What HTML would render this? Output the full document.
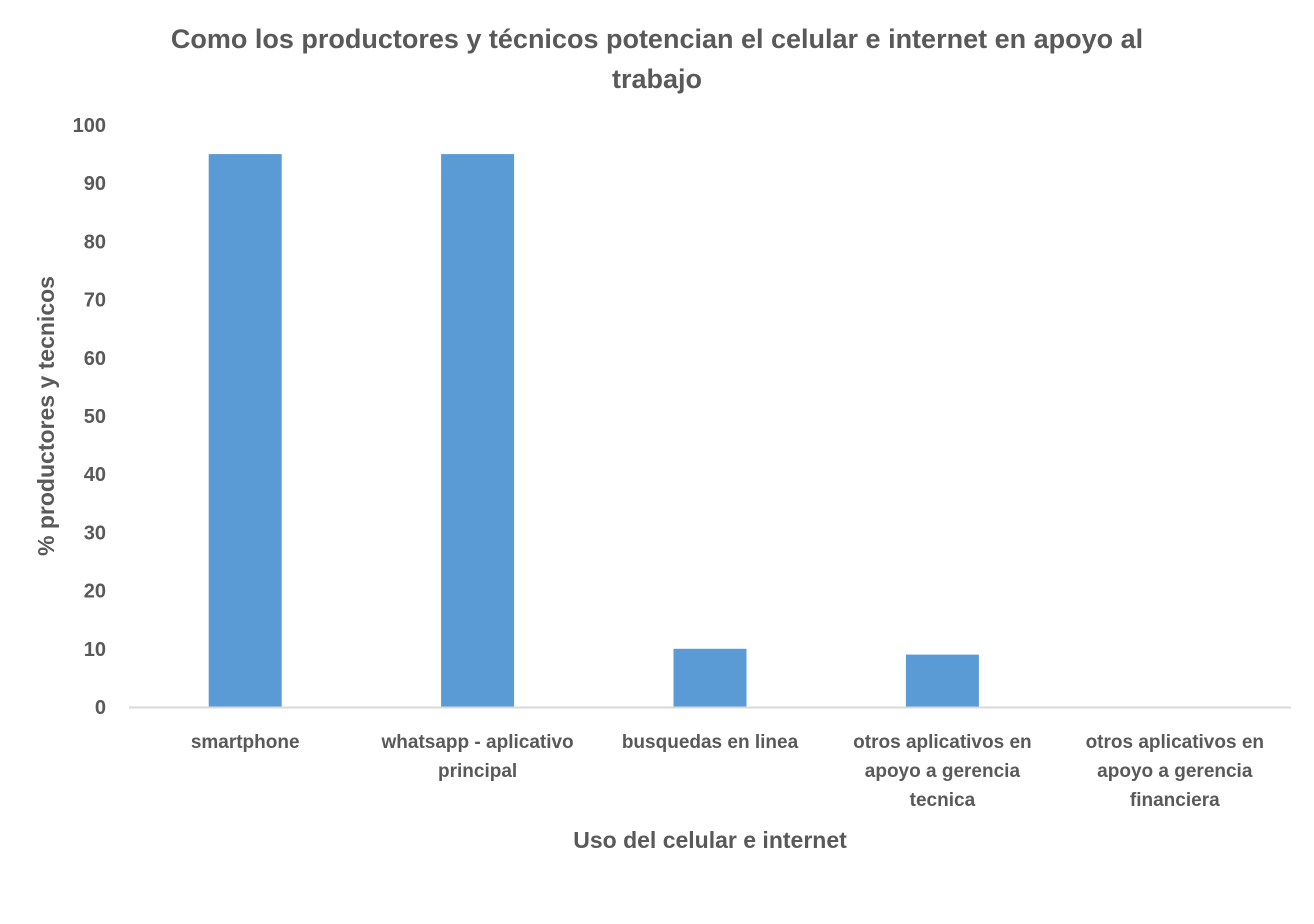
<!DOCTYPE html>
<html><head><meta charset="utf-8"><style>
body{margin:0;background:#fff;}
svg text{font-family:"Liberation Sans",sans-serif;font-weight:bold;fill:#595959;}
</style></head><body>
<svg width="1314" height="919" xmlns="http://www.w3.org/2000/svg">
<rect width="1314" height="919" fill="#fff"/>
<text x="657" y="48" font-size="27" text-anchor="middle">Como los productores y técnicos potencian el celular e internet en apoyo al</text>
<text x="657" y="88" font-size="27" text-anchor="middle">trabajo</text>
<text transform="translate(54,416) rotate(-90)" font-size="23" text-anchor="middle">% productores y tecnicos</text>
<text x="710" y="848" font-size="23" text-anchor="middle">Uso del celular e internet</text>
<g id="plot"></g>
</svg>
<script>
const categories=[["smartphone"],["whatsapp - aplicativo","principal"],["busquedas en linea"],["otros aplicativos en","apoyo a gerencia","tecnica"],["otros aplicativos en","apoyo a gerencia","financiera"]];
const values=[95,95,10,9,0];
const yTicks=[0,10,20,30,40,50,60,70,80,90,100];
const NS="http://www.w3.org/2000/svg";
const g=document.getElementById('plot');
const x0=129,x1=1291,y0=707,y1=125,yMax=100;
const yScale=v=>y0-(v/yMax)*(y0-y1);
const band=(x1-x0)/categories.length;
const xCenter=i=>x0+band*(i+0.5);
const bw=73;
yTicks.forEach(t=>{
  const tx=document.createElementNS(NS,'text');
  tx.setAttribute('x',106);tx.setAttribute('y',yScale(t)+7);
  tx.setAttribute('font-size','20');tx.setAttribute('text-anchor','end');
  tx.textContent=t;
  
  
  g.appendChild(tx);
});
values.forEach((v,i)=>{
  const r=document.createElementNS(NS,'rect');
  r.setAttribute('x',xCenter(i)-bw/2);r.setAttribute('y',yScale(v));
  r.setAttribute('width',bw);r.setAttribute('height',y0-yScale(v));
  r.setAttribute('fill','#5b9bd5');
  
  
  g.appendChild(r);
});
const ax=document.createElementNS(NS,'line');
ax.setAttribute('x1',x0);ax.setAttribute('x2',x1);ax.setAttribute('y1',y0+0.5);ax.setAttribute('y2',y0+0.5);
ax.setAttribute('stroke','#d9d9d9');ax.setAttribute('stroke-width','2');


g.appendChild(ax);
categories.forEach((lines,i)=>{
  const tx=document.createElementNS(NS,'text');
  tx.setAttribute('font-size','19');tx.setAttribute('text-anchor','middle');
  
  
  lines.forEach((l,j)=>{
    const ts=document.createElementNS(NS,'tspan');
    ts.setAttribute('x',xCenter(i));ts.setAttribute('y',748+j*29);
    ts.textContent=l;tx.appendChild(ts);
  });
  g.appendChild(tx);
});
</script>
</body></html>
